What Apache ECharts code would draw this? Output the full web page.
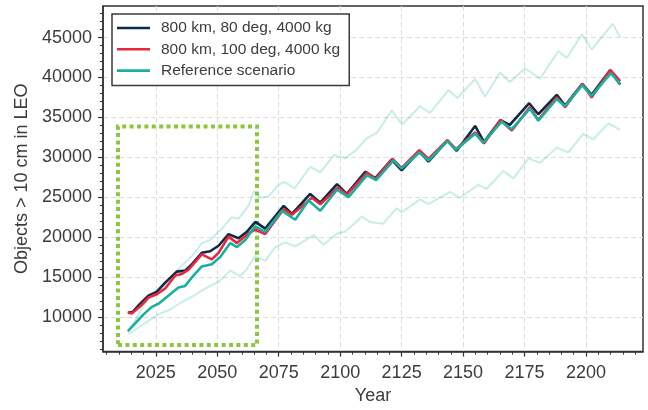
<!DOCTYPE html>
<html>
<head>
<meta charset="utf-8">
<script src="https://cdn.jsdelivr.net/npm/echarts@6/dist/echarts.min.js"></script>
<style>
html,body{margin:0;padding:0;background:#fff;}
#chart{width:648px;height:410px;}
</style>
</head>
<body>
<div id="chart"></div>
<script>
// ---------- tick labels ----------
const xTicks = [2025, 2050, 2075, 2100, 2125, 2150, 2175, 2200];
const xMinorTicks = [2005, 2010, 2015, 2020, 2025, 2030, 2035, 2040, 2045, 2050, 2055, 2060, 2065, 2070, 2075, 2080, 2085, 2090, 2095, 2100, 2105, 2110, 2115, 2120, 2125, 2130, 2135, 2140, 2145, 2150, 2155, 2160, 2165, 2170, 2175, 2180, 2185, 2190, 2195, 2200, 2205, 2210, 2215, 2220];
const yTicks = [10000, 15000, 20000, 25000, 30000, 35000, 40000, 45000];
const yMinorTicks = [6000, 7000, 8000, 9000, 10000, 11000, 12000, 13000, 14000, 15000, 16000, 17000, 18000, 19000, 20000, 21000, 22000, 23000, 24000, 25000, 26000, 27000, 28000, 29000, 30000, 31000, 32000, 33000, 34000, 35000, 36000, 37000, 38000, 39000, 40000, 41000, 42000, 43000, 44000, 45000, 46000, 47000, 48000];

// ---------- series names ----------
const names = ['800 km, 80 deg, 4000 kg', '800 km, 100 deg, 4000 kg', 'Reference scenario'];

// ---------- 800 km, 80 deg ----------
const darkYears = [2013.6, 2015.5, 2018, 2022, 2025.4, 2028.8, 2033.5, 2036.9, 2039.7, 2043.7, 2047.1, 2050.5, 2054.6, 2058.6, 2062, 2065.5, 2069.5, 2077, 2080.4, 2087.8, 2091.9, 2098.7, 2102.7, 2110.2, 2114.3, 2120.9, 2125, 2132.2, 2135.9, 2143.6, 2147.4, 2154.9, 2158.5, 2165.2, 2169, 2176.9, 2180.6, 2188.1, 2191.5, 2198.5, 2202.3, 2209.8, 2213.9];
const darkValues = [10530, 10600, 11460, 12680, 13160, 14300, 15680, 15800, 16610, 18030, 18230, 18920, 20380, 19850, 20660, 21900, 21070, 23910, 22900, 25410, 24310, 26630, 25410, 28170, 27400, 29710, 28370, 30730, 29470, 32100, 30810, 33930, 31900, 34660, 34050, 36770, 35390, 37820, 36480, 39200, 37820, 40900, 39120];

// ---------- 800 km, 100 deg ----------
const redYears = [2013.6, 2015.3, 2018.7, 2022, 2025.4, 2028.8, 2032.9, 2035.6, 2038.3, 2043.7, 2047.8, 2050.5, 2054.6, 2058, 2062.7, 2065.4, 2069.5, 2077, 2080.4, 2088.5, 2091.9, 2099.1, 2102.7, 2110.9, 2114.3, 2121.3, 2125, 2132.2, 2135.9, 2143.6, 2147.1, 2154.9, 2158.5, 2165.2, 2169.8, 2177.2, 2180.6, 2188.1, 2191.5, 2198.5, 2202.3, 2209.9, 2213.9];
const redValues = [10530, 10450, 11340, 12430, 12840, 13570, 15190, 15390, 15920, 17830, 17220, 18030, 20060, 19250, 20460, 20950, 20380, 23500, 22810, 24920, 24110, 26220, 25330, 28090, 27270, 29790, 28660, 30890, 29790, 32140, 31010, 33120, 31740, 34660, 33360, 36280, 34660, 37500, 36280, 39200, 37500, 40950, 39530];

// ---------- Reference scenario ----------
const refYears = [2013.6, 2016.6, 2020, 2023.4, 2026.1, 2030.2, 2034.2, 2036.9, 2040.3, 2043.7, 2047.8, 2051.2, 2055.3, 2058, 2061.4, 2065.4, 2069.5, 2076.3, 2081.7, 2087.1, 2091.9, 2098.7, 2103.4, 2110.9, 2114.6, 2121.6, 2125, 2132.2, 2135.9, 2143.6, 2147.1, 2154.9, 2158.2, 2165.7, 2169.8, 2177.2, 2180.6, 2188.1, 2191.5, 2198.5, 2202.3, 2210.1, 2213.9];
const refValues = [8220, 9190, 10320, 11260, 11660, 12680, 13690, 13890, 15190, 16330, 16610, 17500, 19250, 18760, 19650, 21350, 20660, 23300, 22170, 24600, 23300, 25940, 25000, 27760, 27150, 29590, 28580, 30600, 29590, 32020, 30930, 32960, 31820, 34460, 33520, 36080, 34580, 37300, 36400, 39040, 37700, 40540, 39200];

// ---------- Reference scenario, upper envelope ----------
const upperYears = [2013.8, 2018.7, 2022, 2027.4, 2033.5, 2039.7, 2043.7, 2047.1, 2051.9, 2055.9, 2058.6, 2062.7, 2064.8, 2067.5, 2070.9, 2074.9, 2077.5, 2081.4, 2087.8, 2092, 2097.5, 2102, 2106.5, 2110.5, 2115, 2121, 2125.2, 2132.5, 2136.5, 2144, 2147.7, 2154.9, 2158.9, 2165, 2169.1, 2175.2, 2181.3, 2188.8, 2192.2, 2198.3, 2202.3, 2210.9, 2213.9];
const upperValues = [8100, 10670, 12350, 13570, 15800, 17620, 19250, 19650, 21070, 22490, 22290, 23910, 25730, 24920, 25120, 26540, 26900, 26100, 28800, 28100, 30300, 29870, 30900, 32300, 33080, 35880, 34100, 36400, 35550, 38390, 37420, 39810, 37580, 40620, 39440, 41150, 39850, 43300, 42450, 45410, 43500, 46740, 45000];

// ---------- Reference scenario, lower envelope ----------
const lowerYears = [2013.9, 2016.5, 2022, 2026.1, 2030.8, 2035.6, 2041, 2045.1, 2050.5, 2055.3, 2059.3, 2062, 2065.4, 2069.5, 2073.6, 2077.6, 2081.7, 2089.2, 2093.2, 2098.7, 2102, 2108.9, 2112.1, 2117.5, 2123, 2125, 2132.5, 2135.9, 2144.7, 2148.7, 2156.2, 2159.6, 2166.4, 2170.5, 2176.6, 2181.3, 2188.1, 2192.8, 2198.9, 2203, 2209.1, 2213.9];
const lowerValues = [7890, 8400, 9510, 10320, 10930, 11870, 12760, 13570, 14380, 15800, 15110, 16000, 17620, 17020, 18760, 19330, 18840, 20260, 19040, 20460, 20660, 22570, 21890, 21680, 23630, 23100, 24720, 24120, 25660, 24930, 26550, 26060, 28290, 27360, 29870, 29310, 31210, 30600, 32920, 32230, 34250, 33440];

// ---------- highlighted window (years, objects) ----------
const boxYears = [2009.6, 2066.15];
const boxValues = [6480, 33860];

const pairs = (xs, ys) => xs.map((x, i) => [x, ys[i]]);

const FONT = 'Liberation Sans, Arial, Helvetica, sans-serif';
const AX = '#333333';
const TXT = '#3c3c3c';
const X_MIN = 2003.5, X_MAX = 2223.2, Y_MIN = 5660, Y_MAX = 48950;
const plain = (v) => String(Math.round(v));

const chart = echarts.init(document.getElementById('chart'), null, {renderer: 'canvas'});

const band = (data) => ({
  type: 'line', data, showSymbol: false, symbol: 'none', silent: true,
  lineStyle: {width: 2, color: 'rgba(26,179,160,0.24)'}, z: 2, animation: false
});

chart.setOption({
  animation: false,
  backgroundColor: '#ffffff',
  textStyle: {fontFamily: FONT},
  grid: {left: 103, top: 6, width: 540, height: 355, show: true, borderColor: AX, borderWidth: 1.5, backgroundColor: '#fff'},
  legend: {
    data: names, orient: 'vertical', left: 112, top: 14,
    padding: [6, 9, 7, 5], itemWidth: 33, itemHeight: 2.6, itemGap: 5.3, icon: 'rect',
    backgroundColor: '#ffffff', borderColor: '#3a3a3a', borderWidth: 1.5, borderRadius: 0,
    textStyle: {fontSize: 15.5, color: TXT, fontFamily: FONT, padding: [0, 0, 0, 6], lineHeight: 16},
    z: 20
  },
  xAxis: [
    {
      type: 'value', min: X_MIN, max: X_MAX, position: 'bottom',
      name: 'Year', nameLocation: 'middle', nameGap: 33,
      nameTextStyle: {fontSize: 18, color: TXT, fontFamily: FONT},
      axisLine: {show: true, lineStyle: {color: AX, width: 1.5}},
      axisTick: {show: true, length: 5, lineStyle: {color: AX, width: 1.2}, customValues: xTicks},
      axisLabel: {fontSize: 18, color: TXT, margin: 12.5, customValues: xTicks, fontFamily: FONT, formatter: plain},
      splitLine: {show: true, lineStyle: {color: '#dcdcdc', width: 1, type: [5, 3]}}
    },
    {
      type: 'value', min: X_MIN, max: X_MAX, position: 'bottom', offset: 0,
      axisLine: {show: false},
      axisTick: {show: true, length: 3, lineStyle: {color: AX, width: 1}, customValues: xMinorTicks},
      axisLabel: {show: false},
      splitLine: {show: false}
    }
  ],
  yAxis: [
    {
      type: 'value', min: Y_MIN, max: Y_MAX, position: 'left',
      name: 'Objects > 10 cm in LEO', nameLocation: 'middle', nameGap: 66,
      nameTextStyle: {fontSize: 18, color: TXT, fontFamily: FONT},
      axisLine: {show: true, lineStyle: {color: AX, width: 1.5}},
      axisTick: {show: true, length: 5, lineStyle: {color: AX, width: 1.2}, customValues: yTicks},
      axisLabel: {fontSize: 18, color: TXT, margin: 11, customValues: yTicks, fontFamily: FONT, formatter: plain},
      splitLine: {show: true, lineStyle: {color: '#dcdcdc', width: 1, type: [5, 3]}}
    },
    {
      type: 'value', min: Y_MIN, max: Y_MAX, position: 'left', offset: 0,
      axisLine: {show: false},
      axisTick: {show: true, length: 3, lineStyle: {color: AX, width: 1}, customValues: yMinorTicks},
      axisLabel: {show: false},
      splitLine: {show: false}
    }
  ],
  series: [
    band(pairs(upperYears, upperValues)),
    band(pairs(lowerYears, lowerValues)),
    {
      name: names[0], type: 'line', data: pairs(darkYears, darkValues),
      showSymbol: false, symbol: 'none', lineStyle: {width: 2.6, color: '#0e2b45'}, itemStyle: {color: '#0e2b45'}, z: 3
    },
    {
      name: names[1], type: 'line', data: pairs(redYears, redValues),
      showSymbol: false, symbol: 'none', lineStyle: {width: 2.6, color: '#e8263c'}, itemStyle: {color: '#e8263c'}, z: 4
    },
    {
      name: names[2], type: 'line', data: pairs(refYears, refValues),
      showSymbol: false, symbol: 'none', lineStyle: {width: 2.6, color: '#17b09f'}, itemStyle: {color: '#17b09f'}, z: 5
    },
    {
      type: 'line', data: [], silent: true, z: 10, symbol: 'none',
      markArea: {
        silent: true,
        itemStyle: {color: 'rgba(0,0,0,0)', borderColor: '#8cc63f', borderWidth: 4, borderType: [4, 3.4]},
        data: [[{coord: [boxYears[0], boxValues[0]]}, {coord: [boxYears[1], boxValues[1]]}]]
      }
    }
  ]
});
</script>
</body>
</html>
